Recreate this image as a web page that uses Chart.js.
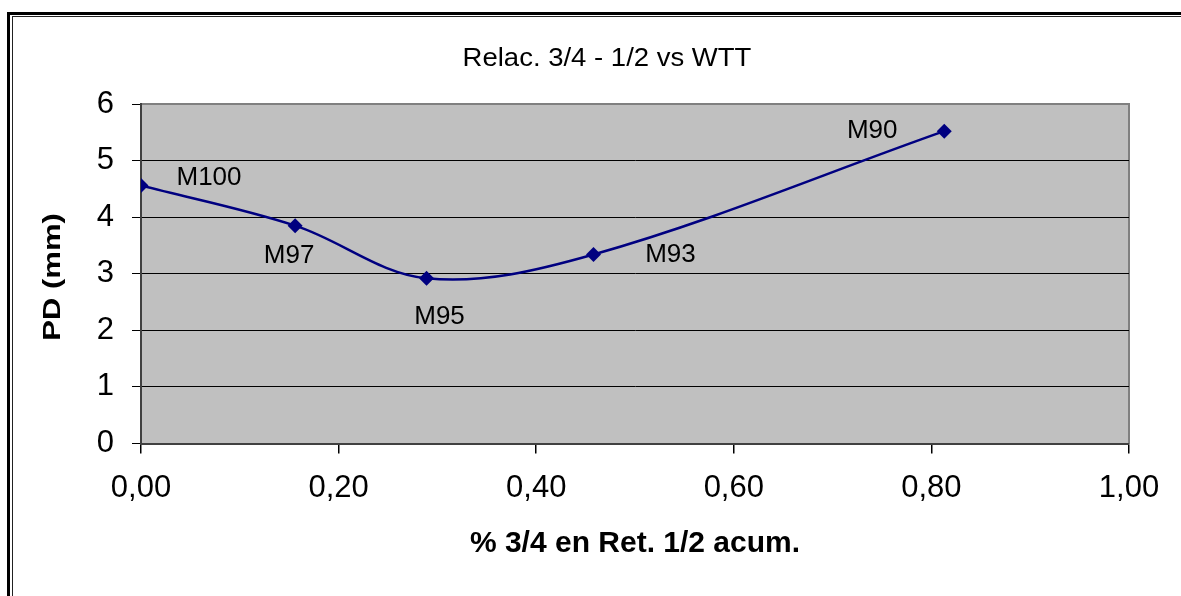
<!DOCTYPE html>
<html>
<head>
<meta charset="utf-8">
<title>Relac. 3/4 - 1/2 vs WTT</title>
<style>
  html, body { margin: 0; padding: 0; background: #fff; overflow: hidden; }
  canvas { display: block; }
</style>
<script src="https://cdn.jsdelivr.net/npm/chart.js@4/dist/chart.umd.min.js"></script>
</head>
<body>
<canvas id="chart" width="1181" height="596"></canvas>
<script>
// Mix samples and their measured values
const samples = ['M100', 'M97', 'M95', 'M93', 'M90'];
const pctRetained = [0.000, 0.156, 0.289, 0.458, 0.813];   // % 3/4 en Ret. 1/2 acum.
const pdMm = [4.56, 3.85, 2.92, 3.34, 5.52];                // PD (mm)

// Axis tick labels (decimal comma)
const xTickLabels = ['0,00', '0,20', '0,40', '0,60', '0,80', '1,00'];
const yTickLabels = ['0', '1', '2', '3', '4', '5', '6'];

const chartTitle = 'Relac. 3/4 - 1/2 vs WTT';
const xTitle = '% 3/4 en Ret. 1/2 acum.';
const yTitle = 'PD (mm)';

// Where each sample name sits relative to its marker (px)
const labelOffsets = { M100: [68, -8], M97: [-6, 30], M95: [13, 39], M93: [77, 0], M90: [-72, 0] };

const FONT = '"Liberation Sans", Arial, Helvetica, sans-serif';
const NAVY = '#000080';
Chart.defaults.font.family = FONT;
Chart.defaults.color = '#000';

const toNum = s => parseFloat(s.replace(',', '.'));

// Page frame, grey plot background and plot border
const backdrop = {
  id: 'backdrop',
  beforeDraw(chart) {
    const { ctx, chartArea: a, width, height } = chart;
    ctx.save();
    ctx.fillStyle = '#fff';
    ctx.fillRect(0, 0, width, height);
    // double frame around the whole sheet
    ctx.strokeStyle = '#000';
    ctx.lineWidth = 3;
    ctx.strokeRect(8.5, 13.5, width + 20, height + 20);
    ctx.lineWidth = 1;
    ctx.strokeStyle = '#222';
    ctx.strokeRect(12.5, 16.5, width + 20, height + 20);
    // plot area
    ctx.fillStyle = '#c0c0c0';
    ctx.fillRect(a.left, a.top, a.right - a.left, a.bottom - a.top);
    ctx.strokeStyle = '#808080';
    ctx.lineWidth = 2;
    ctx.beginPath();
    ctx.moveTo(a.left, a.top);
    ctx.lineTo(a.right, a.top);
    ctx.lineTo(a.right, a.bottom);
    ctx.stroke();
    ctx.restore();
  }
};

// Chart title, vertical axis title and the sample names next to the markers
const annotations = {
  id: 'annotations',
  afterDatasetsDraw(chart) {
    const { ctx } = chart;
    const pts = chart.getDatasetMeta(0).data;
    ctx.save();
    ctx.fillStyle = '#000';
    ctx.font = '26px ' + FONT;
    ctx.textAlign = 'center';
    ctx.textBaseline = 'middle';
    pts.forEach((p, i) => {
      const [dx, dy] = labelOffsets[samples[i]];
      ctx.fillText(samples[i], p.x + dx, p.y + dy);
    });
    ctx.restore();
  },
  afterDraw(chart) {
    const { ctx } = chart;
    ctx.save();
    ctx.fillStyle = '#000';
    ctx.textAlign = 'center';
    ctx.textBaseline = 'middle';
    // main title
    ctx.save();
    ctx.translate(607, 59);
    ctx.scale(1.1, 1);
    ctx.font = '25px ' + FONT;
    ctx.fillText(chartTitle, 0, 0);
    ctx.restore();
    // vertical axis title
    ctx.save();
    ctx.translate(54, 277);
    ctx.rotate(-Math.PI / 2);
    ctx.scale(1.35, 1);
    ctx.font = 'bold 23px ' + FONT;
    ctx.fillText(yTitle, 0, 0);
    ctx.restore();
    ctx.restore();
  }
};

new Chart(document.getElementById('chart'), {
  type: 'line',
  data: {
    datasets: [{
      label: yTitle,
      data: pctRetained.map((x, i) => ({ x, y: pdMm[i] })),
      borderColor: NAVY,
      backgroundColor: NAVY,
      borderWidth: 2.5,
      tension: 0.35,
      pointStyle: 'rectRot',
      pointRadius: 7.5,
      pointBorderWidth: 0,
      pointBackgroundColor: NAVY,
      fill: false
    }]
  },
  options: {
    responsive: false,
    animation: false,
    devicePixelRatio: 1,
    layout: { padding: { left: 0, top: 104, right: 52, bottom: 32.5 } },
    plugins: {
      legend: { display: false },
      title: { display: false },
      tooltip: { enabled: false }
    },
    scales: {
      x: {
        type: 'linear',
        min: 0,
        max: 1,
        afterBuildTicks: axis => { axis.ticks = xTickLabels.map(s => ({ value: toNum(s) })); },
        afterFit: scale => { scale.height = 120; },
        ticks: {
          callback: (v, i) => xTickLabels[i],
          font: { size: 31 },
          color: '#000',
          padding: 16,
          maxRotation: 0,
          autoSkip: false
        },
        grid: { drawOnChartArea: false, drawTicks: true, tickLength: 10, color: '#000', lineWidth: 1.5 },
        border: { display: true, color: '#404040', width: 2 },
        title: {
          display: true,
          text: xTitle,
          font: { size: 30, weight: 'bold' },
          color: '#000',
          padding: { top: 0, bottom: 2 }
        }
      },
      y: {
        min: 0,
        max: 6,
        afterBuildTicks: axis => { axis.ticks = yTickLabels.map(s => ({ value: toNum(s) })); },
        afterFit: scale => { scale.width = 141; },
        ticks: {
          callback: (v, i) => yTickLabels[i],
          font: { size: 31 },
          color: '#000',
          padding: 18
        },
        grid: {
          color: ctx => (ctx.tick && ctx.tick.value === 6 ? '#808080' : '#000'),
          tickColor: '#000',
          lineWidth: 1,
          drawTicks: true,
          tickLength: 9
        },
        border: { display: true, color: '#404040', width: 2 }
      }
    }
  },
  plugins: [backdrop, annotations]
});
</script>
</body>
</html>
